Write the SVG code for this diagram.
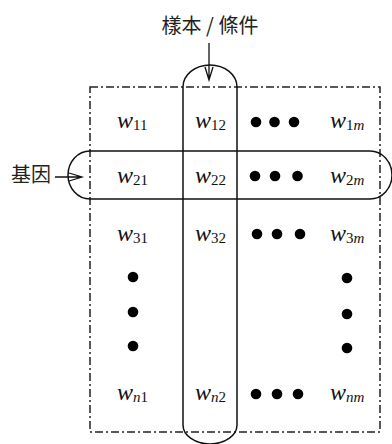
<svg xmlns="http://www.w3.org/2000/svg" width="392" height="444" viewBox="0 0 392 444">
<style>
.frame{fill:none;stroke:#222;stroke-width:1.5;stroke-dasharray:8 3 2 3}
.cap{fill:none;stroke:#111;stroke-width:1.5}
.w{font-family:"Liberation Serif",serif;font-style:italic;font-size:24px;fill:#111}
.sub{font-size:15px}
.num{font-style:normal}
.dot{fill:#000}
.cjk{font-family:"Noto Sans CJK TC","Noto Sans CJK SC",sans-serif;font-size:20px;fill:#222}
.arr{fill:none;stroke:#111;stroke-width:1.3}
</style>
<rect width="392" height="444" fill="#fff"/>
<g id="matrix">
<rect class="frame" x="90" y="87" width="290" height="345"/>
</g>
<g id="sample-capsule">
<path class="cap" d="M183,425 V87 A27,22 0 0 1 237,87 V425 A27,19 0 0 1 183,425 Z"/>
</g>
<g id="gene-capsule">
<path class="cap" d="M90,151 H370 A22,24 0 0 1 370,199 H90 A22,24 0 0 1 90,151 Z"/>
</g>
<g id="cells">
<text class="w" x="117" y="128">w<tspan class="sub num" dy="2">11</tspan></text>
<text class="w" x="195" y="128">w<tspan class="sub num" dy="2">12</tspan></text>
<text class="w" x="330" y="128">w<tspan class="sub" dy="2"><tspan class="num">1</tspan>m</tspan></text>
<text class="w" x="117" y="183">w<tspan class="sub num" dy="2">21</tspan></text>
<text class="w" x="195" y="183">w<tspan class="sub num" dy="2">22</tspan></text>
<text class="w" x="330" y="183">w<tspan class="sub" dy="2"><tspan class="num">2</tspan>m</tspan></text>
<text class="w" x="117" y="241">w<tspan class="sub num" dy="2">31</tspan></text>
<text class="w" x="195" y="241">w<tspan class="sub num" dy="2">32</tspan></text>
<text class="w" x="330" y="241">w<tspan class="sub" dy="2"><tspan class="num">3</tspan>m</tspan></text>
<text class="w" x="117" y="400">w<tspan class="sub" dy="2">n<tspan class="num">1</tspan></tspan></text>
<text class="w" x="195" y="400">w<tspan class="sub" dy="2">n<tspan class="num">2</tspan></tspan></text>
<text class="w" x="330" y="400">w<tspan class="sub" dy="2">nm</tspan></text>
</g>
<g id="dots">
<circle class="dot" cx="256" cy="122" r="5.3"/><circle class="dot" cx="274.5" cy="122" r="5.3"/><circle class="dot" cx="294" cy="122" r="5.3"/>
<circle class="dot" cx="255" cy="176" r="5.3"/><circle class="dot" cx="275" cy="176" r="5.3"/><circle class="dot" cx="297.5" cy="176" r="5.3"/>
<circle class="dot" cx="257" cy="234" r="5.3"/><circle class="dot" cx="277" cy="234" r="5.3"/><circle class="dot" cx="300" cy="234" r="5.3"/>
<circle class="dot" cx="256" cy="394" r="5.3"/><circle class="dot" cx="277" cy="394" r="5.3"/><circle class="dot" cx="298" cy="394" r="5.3"/>
<circle class="dot" cx="133" cy="277" r="5.3"/><circle class="dot" cx="133" cy="312" r="5.3"/><circle class="dot" cx="133" cy="346" r="5.3"/>
<circle class="dot" cx="347" cy="278" r="5.3"/><circle class="dot" cx="347" cy="314" r="5.3"/><circle class="dot" cx="347" cy="348" r="5.3"/>
</g>
<g id="label-sample">
<text class="cjk" x="210" y="33" text-anchor="middle">樣本 / 條件</text>
</g>
<g id="label-gene">
<text class="cjk" x="11" y="182">基因</text>
</g>
<g id="connectors">
<path class="arr" d="M209,43 V80 M205,67 L209,80 L213,67"/>
<path class="arr" d="M55,177 H82 M69,173 L82,177 L69,181"/>
</g>
</svg>
